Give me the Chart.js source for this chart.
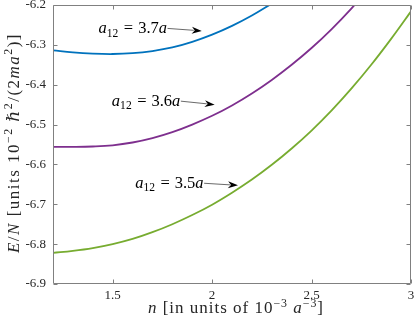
<!DOCTYPE html>
<html>
<head>
<meta charset="utf-8">
<script src="https://cdn.jsdelivr.net/npm/chart.js@4"></script>
<style>
  html, body { margin: 0; padding: 0; background: #fff; }
  #wrap { width: 415px; height: 326px; }
</style>
</head>
<body>
<div id="wrap"><canvas id="c"></canvas></div>
<script>
// n [10^-3 a^-3] ve E/N degerleri
const nBlue   = [1.2, 1.3, 1.4, 1.5, 1.6, 1.7, 1.8, 1.9, 2.0, 2.1, 2.2, 2.3];
const eBlue   = [-6.314, -6.319, -6.322, -6.323, -6.321, -6.3155, -6.3065, -6.2925, -6.2745, -6.2525, -6.2265, -6.1965];
const nPurple = [1.2, 1.3, 1.4, 1.5, 1.6, 1.7, 1.8, 1.9, 2.0, 2.1, 2.2, 2.3, 2.4, 2.5, 2.6, 2.7, 2.8];
const ePurple = [-6.556, -6.556, -6.555, -6.552, -6.545, -6.534, -6.519, -6.500, -6.478, -6.452, -6.422, -6.388, -6.350, -6.308, -6.261, -6.209, -6.152];
const nGreen  = [1.2, 1.3, 1.4, 1.5, 1.6, 1.7, 1.8, 1.9, 2.0, 2.1, 2.2, 2.3, 2.4, 2.5, 2.6, 2.7, 2.8, 2.9, 3.0];
const eGreen  = [-6.822, -6.817, -6.810, -6.800, -6.787, -6.770, -6.750, -6.727, -6.701, -6.671, -6.638, -6.601, -6.560, -6.515, -6.465, -6.410, -6.350, -6.285, -6.216];
const seriesLabels = ['3.7', '3.6', '3.5'];
const xTicks = [1.5, 2, 2.5, 3];
const yTicks = [-6.9, -6.8, -6.7, -6.6, -6.5, -6.4, -6.3, -6.2];

const FONT = '"Liberation Serif", "DejaVu Serif", serif';
const INK = '#262626';
const AXIS = '#808080';

// Ok etiketleri (veri koordinatlarinda)
const notes = [
  { label: seriesLabels[0], tx: 1.429, ty: -6.2575, ax: 1.948, ay: -6.265 },
  { label: seriesLabels[1], tx: 1.496, ty: -6.440,  ax: 2.013, ay: -6.450 },
  { label: seriesLabels[2], tx: 1.613, ty: -6.646,  ax: 2.130, ay: -6.6525 },
];

// Karisik stilde metin (italik, ust/alt indis, bosluk, harf araligi)
function segFont(kind, size) {
  const s = (kind === 'sup' || kind === 'sub') ? size * 0.7 : size;
  const it = kind === 'i' ? 'italic ' : '';
  return it + s.toFixed(2) + 'px ' + FONT;
}
function segWidth(ctx, t, k, size, track) {
  if (k === 'gap') return t;
  ctx.font = segFont(k, size);
  return ctx.measureText(t).width + track * t.length;
}
function richWidth(ctx, segs, size, track = 0) {
  return segs.reduce((w, [t, k]) => w + segWidth(ctx, t, k, size, track), 0);
}
function drawRich(ctx, segs, x, y, size, align, track = 0) {
  const w = richWidth(ctx, segs, size, track);
  let cx = align === 'center' ? x - w / 2 : x;
  ctx.textBaseline = 'alphabetic';
  ctx.textAlign = 'left';
  segs.forEach(([t, k]) => {
    if (k === 'gap') { cx += t; return; }
    ctx.font = segFont(k, size);
    let dy = 0;
    if (k === 'sup') dy = -size * 0.38;
    if (k === 'sub') dy = size * 0.22;
    for (const ch of t) {
      ctx.fillText(ch, cx, y + dy);
      cx += ctx.measureText(ch).width + track;
    }
  });
  return w;
}
// hedef genislige gore harf araligi
function fitTrack(ctx, segs, size, target) {
  const n = segs.reduce((c, [t, k]) => c + (k === 'gap' ? 0 : t.length), 0);
  return Math.max(0, (target - richWidth(ctx, segs, size)) / n);
}

const decor = {
  id: 'decor',
  afterDatasetsDraw(chart) {
    const { ctx, chartArea: a, scales: { x, y } } = chart;
    const L = Math.round(a.left) + 0.5, R = Math.round(a.right) - 0.5;
    const T = Math.round(a.top) + 0.5, B = Math.round(a.bottom) - 0.5;
    ctx.save();
    ctx.strokeStyle = AXIS;
    ctx.lineWidth = 1;
    ctx.beginPath();
    ctx.rect(L, T, R - L, B - T);
    // iceri bakan tikler
    const tl = 4;
    xTicks.forEach(v => {
      const px = Math.round(x.getPixelForValue(v)) + 0.5;
      ctx.moveTo(px, B); ctx.lineTo(px, B - tl);
      ctx.moveTo(px, T); ctx.lineTo(px, T + tl);
    });
    yTicks.forEach(v => {
      const py = Math.round(y.getPixelForValue(v)) + 0.5;
      ctx.moveTo(L, py); ctx.lineTo(L + tl, py);
      ctx.moveTo(R, py); ctx.lineTo(R - tl, py);
    });
    ctx.stroke();

    // oklar ve etiketler
    ctx.fillStyle = '#000';
    notes.forEach(nt => {
      const tx = x.getPixelForValue(nt.tx), ty = y.getPixelForValue(nt.ty);
      const segs = [['a', 'i'], ['12', 'sub'], [5.5, 'gap'], ['=', 'r'], [5, 'gap'], [nt.label, 'r'], ['a', 'i']];
      const w = drawRich(ctx, segs, tx, ty + 5, 16.5, 'left');
      const x0 = tx + w + 0.5, y0 = ty + 0.5;
      const x1 = x.getPixelForValue(nt.ax), y1 = y.getPixelForValue(nt.ay);
      const ang = Math.atan2(y1 - y0, x1 - x0);
      const hl = 10, hw = 3.5;
      const bx = x1 - hl * Math.cos(ang), by = y1 - hl * Math.sin(ang);
      ctx.strokeStyle = '#444';
      ctx.lineWidth = 0.8;
      ctx.beginPath();
      ctx.moveTo(x0, y0); ctx.lineTo(bx + 2 * Math.cos(ang), by + 2 * Math.sin(ang));
      ctx.stroke();
      ctx.beginPath();
      ctx.moveTo(x1, y1);
      ctx.lineTo(bx - hw * Math.sin(ang), by + hw * Math.cos(ang));
      ctx.lineTo(bx + 3 * Math.cos(ang), by + 3 * Math.sin(ang));
      ctx.lineTo(bx + hw * Math.sin(ang), by - hw * Math.cos(ang));
      ctx.closePath();
      ctx.fill();
    });

    // eksen basliklari
    ctx.fillStyle = INK;
    const xTitle = [['n', 'i'], [' [in units of 10', 'r'], ['\u22123', 'sup'], [' ', 'r'], ['a', 'i'], ['\u22123', 'sup'], [']', 'r']];
    drawRich(ctx, xTitle, 236, 313, 17, 'center', fitTrack(ctx, xTitle, 17, 176));
    const yTitle = [['E', 'i'], ['/', 'r'], ['N', 'i'], [' [units 10', 'r'], ['\u22122', 'sup'], [' ', 'r'], ['\u210F', 'i'], ['2', 'sup'],
                    ['/(2', 'r'], ['ma', 'i'], ['2', 'sup'], [')]', 'r']];
    ctx.translate(18.5, 143);
    ctx.rotate(-Math.PI / 2);
    drawRich(ctx, yTitle, 0, 0, 17, 'center', fitTrack(ctx, yTitle, 17, 220));
    ctx.restore();
  }
};

const line = (nArr, eArr, color) => ({
  data: nArr.map((n, i) => ({ x: n, y: eArr[i] })),
  borderColor: color,
  borderWidth: 1.8,
  pointRadius: 0,
  fill: false,
  tension: 0.4,
  clip: 0,
});

new Chart(document.getElementById('c'), {
  type: 'line',
  data: {
    datasets: [
      line(nBlue, eBlue, '#0072BD'),
      line(nPurple, ePurple, '#7E2F8E'),
      line(nGreen, eGreen, '#77AC30'),
    ]
  },
  options: {
    responsive: true,
    maintainAspectRatio: false,
    animation: false,
    layout: { padding: { top: 5, right: 4, left: 0, bottom: 0 } },
    plugins: { legend: { display: false }, tooltip: { enabled: false } },
    scales: {
      x: {
        type: 'linear', min: 1.2, max: 3,
        grid: { display: false, drawTicks: false },
        border: { display: false },
        afterBuildTicks: s => { s.ticks = xTicks.map(v => ({ value: v })); },
        afterFit: s => { s.height = 42; s.paddingLeft = 0; s.paddingRight = 0; },
        ticks: { color: INK, padding: 4, maxRotation: 0, font: { family: FONT, size: 13 }, callback: v => String(v) },
      },
      y: {
        type: 'linear', min: -6.9, max: -6.2,
        grid: { display: false, drawTicks: false },
        border: { display: false },
        afterBuildTicks: s => { s.ticks = yTicks.map(v => ({ value: v })); },
        afterFit: s => { s.width = 53; s.paddingTop = 0; s.paddingBottom = 0; },
        ticks: { color: INK, padding: 7, font: { family: FONT, size: 13 }, callback: v => v.toFixed(1) },
      }
    }
  },
  plugins: [decor]
});
</script>
</body>
</html>
